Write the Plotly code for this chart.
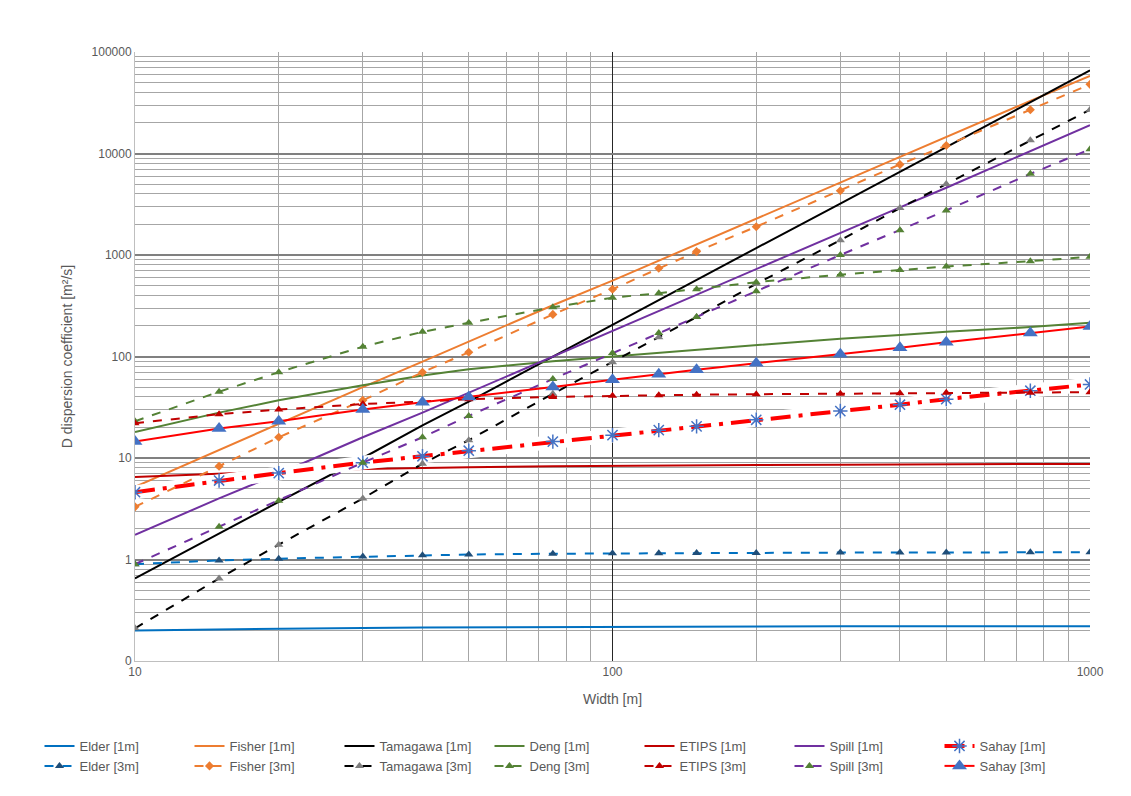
import plotly.graph_objects as go

W = [10, 15, 20, 30, 40, 50, 75, 100, 125, 150, 200, 300, 400, 500, 750, 1000]

elder_1 = [0.20, 0.205, 0.21, 0.212, 0.214, 0.215, 0.216, 0.217, 0.218, 0.218, 0.219, 0.22, 0.22, 0.22, 0.22, 0.22]
elder_3 = [0.90, 0.98, 1.02, 1.07, 1.10, 1.12, 1.14, 1.15, 1.15, 1.16, 1.16, 1.17, 1.17, 1.17, 1.18, 1.18]
fisher_1 = [5.2, 12, 22, 50, 89, 140, 320, 560, 880, 1280, 2300, 5200, 9300, 14500, 33000, 58000]
fisher_3 = [3.3, 8.3, 16, 37, 70, 110, 260, 460, 740, 1080, 1900, 4300, 7800, 12000, 27000, 48000]
tama_1 = [0.65, 1.8, 3.7, 10, 21, 36, 100, 206, 360, 570, 1170, 3200, 6600, 11500, 32000, 66000]
tama_3 = [0.21, 0.65, 1.4, 4.0, 8.8, 15, 43, 88, 155, 245, 520, 1400, 2900, 5000, 13500, 27000]
deng_1 = [18, 28, 37, 52, 65, 75, 90, 100, 108, 117, 130, 150, 163, 175, 195, 215]
deng_3 = [23, 45, 70, 125, 175, 215, 305, 380, 420, 460, 540, 640, 710, 770, 870, 960]
etips_1 = [6.5, 7.0, 7.4, 7.8, 8.0, 8.1, 8.3, 8.4, 8.45, 8.5, 8.55, 8.6, 8.65, 8.7, 8.7, 8.75]
etips_3 = [22, 27, 30, 34, 36, 38, 40, 41, 41.5, 42, 42.5, 43, 43.5, 44, 44, 44.5]
spill_1 = [1.75, 4, 7, 16, 28, 44, 100, 180, 285, 410, 730, 1650, 2950, 4600, 10500, 19000]
spill_3 = [0.9, 2.1, 3.8, 9, 16, 26, 60, 108, 170, 245, 440, 1000, 1750, 2750, 6300, 11000]
sahay_1 = [4.6, 6.0, 7.1, 9.0, 10.4, 11.8, 14.5, 16.8, 18.8, 20.5, 23.8, 29, 33.5, 38, 46, 53]
sahay_3 = [14.5, 19.5, 23, 30, 35.5, 40, 50, 59, 67, 74, 86, 105, 122, 138, 170, 197]

X_MINOR = [20, 30, 40, 50, 60, 70, 80, 90, 200, 300, 400, 500, 600, 700, 800, 900]
Y_MINOR = [m * 10 ** e for e in range(-1, 5) for m in range(2, 10)]

FONT = "Liberation Sans Narrow, Liberation Sans, Arial, sans-serif"

fig = go.Figure()


def solid(y, name, color, width=2):
    fig.add_trace(go.Scatter(x=W, y=y, name=name, mode="lines",
                             line=dict(color=color, width=width)))


def dashed(y, name, color, mcolor, symbol="triangle-up", msize=8):
    fig.add_trace(go.Scatter(x=W, y=y, name=name, mode="lines+markers",
                             line=dict(color=color, width=2, dash="dash"),
                             marker=dict(color=mcolor, symbol=symbol, size=msize)))


# row 1: 1m series
solid(elder_1, "Elder [1m]", "#0070C0")
solid(fisher_1, "Fisher [1m]", "#ED7D31")
solid(tama_1, "Tamagawa [1m]", "#000000")
solid(deng_1, "Deng [1m]", "#548235")
solid(etips_1, "ETIPS [1m]", "#C00000")
solid(spill_1, "Spill [1m]", "#7030A0")
# white halo under Sahay [1m]
fig.add_trace(go.Scatter(x=W, y=sahay_1, mode="lines", showlegend=False, hoverinfo="skip",
                         line=dict(color="white", width=14)))
fig.add_trace(go.Scatter(x=W, y=sahay_1, name="Sahay [1m]", mode="lines+markers",
                         line=dict(color="#FF0000", width=4, dash="longdashdot"),
                         marker=dict(color="#4472C4", symbol="asterisk-open", size=12,
                                     line=dict(color="#4472C4", width=1.5))))
# row 2: 3m series
dashed(elder_3, "Elder [3m]", "#0070C0", "#1F4E79")
dashed(fisher_3, "Fisher [3m]", "#ED7D31", "#ED7D31", symbol="diamond", msize=7)
dashed(tama_3, "Tamagawa [3m]", "#000000", "#7F7F7F")
dashed(deng_3, "Deng [3m]", "#548235", "#548235")
dashed(etips_3, "ETIPS [3m]", "#C00000", "#C00000")
dashed(spill_3, "Spill [3m]", "#7030A0", "#548235")
fig.add_trace(go.Scatter(x=W, y=sahay_3, name="Sahay [3m]", mode="lines+markers",
                         line=dict(color="#FF0000", width=2),
                         marker=dict(color="#4472C4", symbol="triangle-up", size=13)))

fig.update_layout(
    width=1131, height=796,
    plot_bgcolor="white", paper_bgcolor="white",
    font=dict(family=FONT, size=12, color="#595959"),
    margin=dict(l=127, r=49, t=44, b=143),
    legend=dict(orientation="h", x=-0.1, y=-0.115, xanchor="left", yanchor="top",
                entrywidth=105, traceorder="normal", font=dict(size=13),
                tracegroupgap=4),
)
fig.update_xaxes(type="log", range=[1, 3], title_text="Width [m]",
                 tickvals=[10, 100, 1000], ticktext=["10", "100", "1000"],
                 showgrid=True, gridcolor="#262626", gridwidth=1,
                 minor=dict(tickvals=X_MINOR, showgrid=True, gridcolor="#A6A6A6", gridwidth=1),
                 showline=True, linecolor="#BFBFBF", zeroline=False)
fig.update_yaxes(type="log", range=[-1, 5], title_text="D dispersion coefficient [m²/s]",
                 tickvals=[0.1, 1, 10, 100, 1000, 10000, 100000],
                 ticktext=["0", "1", "10", "100", "1000", "10000", "100000"],
                 showgrid=True, gridcolor="#808080", gridwidth=1.5,
                 minor=dict(tickvals=Y_MINOR, showgrid=True, gridcolor="#A6A6A6", gridwidth=1),
                 showline=True, linecolor="#BFBFBF", zeroline=False)

fig.write_html("out.html")
